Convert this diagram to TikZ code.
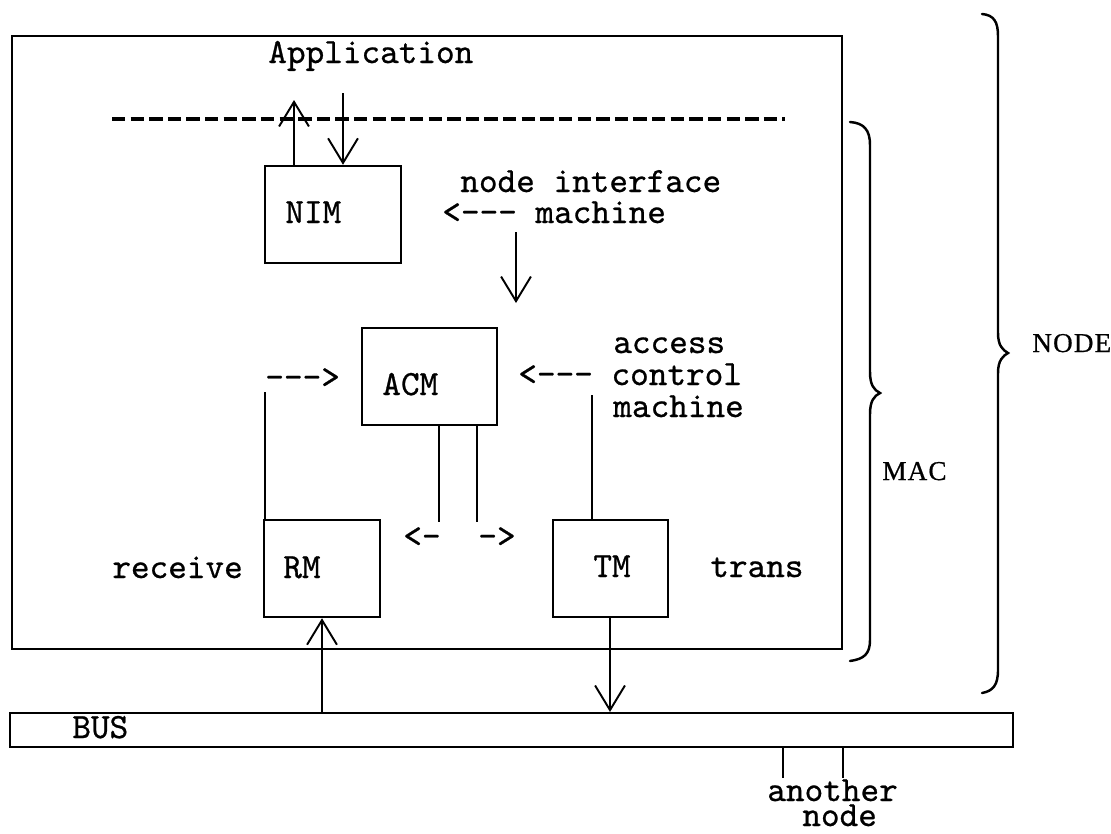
\documentclass[tikz,border=0pt]{standalone}
\usepackage{fontspec}
\setmainfont{Liberation Serif}
\newfontfamily\capfont{Liberation Serif}[FakeBold=0.6, LetterSpace=4]
\setmonofont{lmmono10-regular.otf}[FakeBold=0.7]
\usetikzlibrary{arrows.meta,fit}

\begin{document}
\begin{tikzpicture}[x=0.02cm, y=-0.02cm,
  box/.style={draw, line width=1.4pt, inner sep=0pt},
  wire/.style={line width=1.1pt},
  vee/.style={-{Straight Barb[length=14pt,width=17pt,line width=1.1pt]}},
  tt/.style={font=\ttfamily\fontsize{20.2pt}{24pt}\selectfont, inner sep=0pt, anchor=base west},
  lbl/.style={font=\capfont\fontsize{15.5pt}{18pt}\selectfont, inner sep=0pt, anchor=base west},
  brace/.style={line width=1.4pt, line cap=round}]
\useasboundingbox (0,0) rectangle (1111,833);

% enclosing node box and bus
\node[box, line width=1.5pt, fit={(12,36) (842,649)}] (nodebox) {};
\node[box, line width=1.2pt, fit={(10,713) (1013,747)}] (bus) {};

% machines
\node[box, fit={(265,166) (401,263)}] (nim) {};
\node[box, fit={(362,328) (497,425)}] (acm) {};
\node[box, fit={(264,520) (380,617)}] (rm) {};
\node[box, fit={(553,520) (668,617)}] (tm) {};

% texts
\node[tt] (tapp) at (268,63) {Application};
\node[tt] (tnim) at (285,223) {NIM};
\node[tt] (tnif) at (460,192) {node interface};
\node[tt] (tnim2) at (442,223) {<--- machine};
\node[tt] (tacm) at (382,395) {ACM};
\node[tt] (tin) at (265,388) {--->};
\node[tt] (tacc) at (613,353) {access};
\node[tt] (tctl) at (518,385) {<--- control};
\node[tt] (tmac) at (613,417) {machine};
\node[tt] (tl) at (403,547) {<-};
\node[tt] (tr) at (478,547) {->};
\node[tt] (trm) at (283,578) {RM};
\node[tt] (trcv) at (112,578) {receive};
\node[tt] (ttm) at (593,577) {TM};
\node[tt] (ttr) at (710,577) {trans};
\node[tt] (tbus) at (72,738) {BUS};
\node[tt] (tano) at (767,801) {another};
\node[tt] (tano2) at (802,826) {node};
\node[lbl] (lmac) at (882,480) {MAC};
\node[lbl] (lnode) at (1032,352) {NODE};

% application boundary
\coordinate (dl) at (112,119);
\coordinate (dr) at (785,119);
\draw[line width=1.9pt, dash pattern=on 7.6pt off 3.0pt] (dl) -- (dr);

% connector end points
\coordinate (apU) at (294,100);
\coordinate (apD) at (343,93);
\coordinate (niS) at (516,232);
\coordinate (niE) at (516,303);
\coordinate (rl) at (265,392);
\coordinate (trl) at (592,395);
\coordinate (al) at (439,522);
\coordinate (ar) at (477,522);
\coordinate (ru) at (322,700);
\coordinate (td) at (610,700);
\coordinate (o1) at (783,778);
\coordinate (o2) at (843,778);

\draw[wire, vee] (apU |- nim.north) -- (apU);
\draw[wire, vee] (apD) -- (apD |- nim.north);
\draw[wire, vee] (niS) -- (niE);
\draw[wire] (rl) -- (rl |- rm.north);
\draw[wire] (trl) -- (trl |- tm.north);
\draw[wire] (al |- acm.south) -- (al);
\draw[wire] (ar |- acm.south) -- (ar);
\draw[wire, vee] (ru |- bus.north) -- (ru |- rm.south);
\draw[wire, vee] (td |- tm.south) -- (td |- bus.north);
\draw[wire] (o1 |- bus.south) -- (o1);
\draw[wire] (o2 |- bus.south) -- (o2);

% braces
\draw[brace] (850,122) .. controls (864,123) and (870,130) .. (870,145)
  -- (870,372) .. controls (870,385) and (874,390) .. (880,393)
  .. controls (874,396) and (870,401) .. (870,414)
  -- (870,640) .. controls (870,654) and (864,659) .. (850,661);
\draw[brace] (982,14) .. controls (994,15) and (998,22) .. (998,36)
  -- (998,333) .. controls (998,346) and (1003,350) .. (1008,353)
  .. controls (1003,356) and (998,360) .. (998,373)
  -- (998,670) .. controls (998,685) and (993,691) .. (982,693);
\end{tikzpicture}
\end{document}
